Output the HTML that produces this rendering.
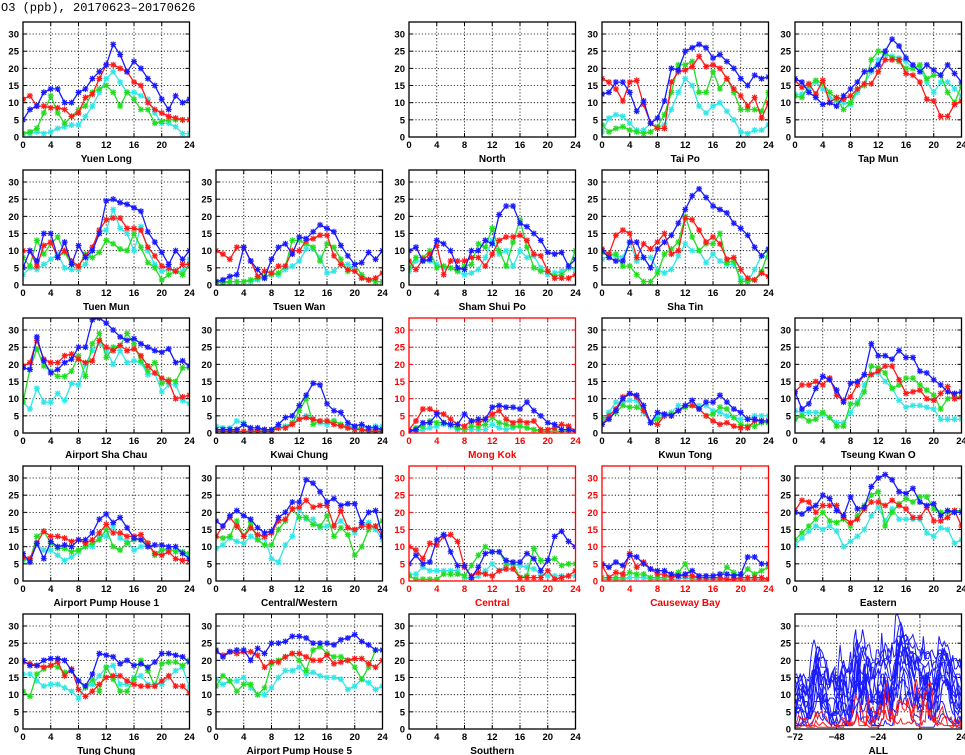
<!DOCTYPE html>
<html><head><meta charset="utf-8"><style>
html,body{margin:0;padding:0;background:#fff;}
svg{display:block;font-family:"Liberation Sans",sans-serif;}
</style></head><body>
<svg id="chart" xmlns="http://www.w3.org/2000/svg" width="965" height="755" viewBox="0 0 965 755">
<text x="1" y="11" font-size="12" font-family="Liberation Mono, monospace" fill="#000">O3 (ppb), 20170623–20170626</text>
</svg>
<script>
// ---- data (hours 0..24), series: cyan, green, red, blue ----
const yTicks = [0,5,10,15,20,25,30];
const xTicks = [0,4,8,12,16,20,24];
const allXTicks = [-72,-48,-24,0,24];

const yuenLongBlue=[5,8,9,13,14,14,10,10,13,14,17,19,21,27,24,19,22,20,17,15,11,8,12,10,11];
const yuenLongRed=[11,12,9,9,8.5,8.5,8,6,7,11.5,12.5,17,21,21,20,19,16,15,10,8,7,6,5.5,5,5];
const yuenLongGreen=[1,1.5,2.5,7,12,7,4,6,8,9,13,14,15,13,9,13,11,8,8,4,4.5,5,5,5,5];
const yuenLongCyan=[1,1,1.5,1,1.5,2.5,3,3.5,3.5,6,9,13,17,19,16,13,13,12,11,7,4,4,3,1,1];

const taiPoBlue=[12.5,13,16,16,13,7.5,10.5,4,5.5,10.5,20,19.5,25,26,27,26,23,24,22,20,17,15,18,17,17.5];
const taiPoRed=[17,16,14,10.5,16,16.5,9.5,4,2.5,2.5,16,19,19.5,20.5,23.5,20.5,21,20,17,14,12,9,11.5,5.5,10];
const taiPoGreen=[3.5,1.5,2.5,3,2,1.5,1,1.5,3,6.5,13,21,21,22,13,13,19,14,17,13,8,8,8,7.5,13];
const taiPoCyan=[1.5,5.5,6.5,6,4,2,2,4,3,3.5,8,13,17,15,9,7,9,10,7.5,5,1.5,1,2,2,3.5];

const tapMunBlue=[17,16,13,11.5,9.5,10,9,12,14,16,19,19.5,21,25,28.5,26.5,23,21,19,21,19.5,18,21,18.5,16];
const tapMunRed=[16.5,14.5,15.5,12.5,16.5,10,11.5,11,12,14,15.5,15.5,19,22.5,22.5,22.5,18.5,18,16,11,10.5,6,6,9.5,10.5];
const tapMunGreen=[12,11.5,15,16.5,15.5,13,11,8,10,14,15,22.5,25,24.5,23,22,20,20,21,17,18,18,13,10,15];
const tapMunCyan=[12.5,12.5,14,16,14,11.5,10.5,10,9.5,13,15.5,19,22.5,24,23.5,23,22,20,20,16,13,16,16,14,12];

const tuenMunBlue=[5,10,7,15,15,8,12.5,6,11.5,8,10,15,24.5,25,24,23.5,22.5,21.5,15.5,12.5,9.5,6,10,7.5,10];
const tuenMunRed=[10,10,5.5,11.5,12.5,8,10,7,5.5,8.5,11,16,19,19.5,19.5,16.5,16.5,16,11,8.5,5.5,5,4,6,6];
const tuenMunGreen=[8,5.5,13,9,12,14,9.5,6,5.5,9,8,9.5,13,12,10.5,10,15,11,6.5,5,1.5,3,4,3,6];
const tuenMunCyan=[3,5,4.5,6,7.5,9,5,4.5,4.5,6,10,15.5,16,22,16.5,15,10,17,10,6,4,4.5,4,4,7.5];

const tsuenWanBlue=[1,1.5,2.5,3,11,7,4.5,2,7.5,11,12,9,14,13.5,15.5,17.5,16.5,15.5,11.5,8.5,6,6.5,9.5,7.5,10];
const tsuenWanRed=[10,9,7.5,11,11,7,2.5,4,3.5,5.5,5.5,10,10,13,13.5,14.5,14.5,8.5,6,4.5,4,2,1.5,2,3.5];
const tsuenWanGreen=[1,0.5,1,1,1,1.5,2,2.5,3,3.5,5.5,13,13,12,11,7,12,11,7.5,4,6,3,1.5,1,1];
const tsuenWanCyan=[1,1,1,1,1,1,1.5,2,3.5,3,4.5,5.5,7,10.5,10.5,8,3.5,4,6,6,4.5,2,1.5,1,1];

const shamShuiPoBlue=[10,11,7,7.5,13,12,10,5,4.5,10,10,13,12,20.5,23,23,18,17,15,13,9.5,9,9.5,5.5,7.5];
const shamShuiPoRed=[7,4.5,7.5,9,11.5,3,7,7,7,8,8,5.5,9,13,14,14,14.5,13,9,8.5,4,2,2,2,3];
const shamShuiPoGreen=[5,8,8,10,5,5.5,5,4,5.5,6,12,11,16.5,10,5.5,12.5,19,11,5,4,4,2.5,3,5,10];
const shamShuiPoCyan=[4,7,7,7,6,5,5,4,3,3.5,4.5,8,13,9,10,5.5,10,8,8.5,5,3,3.5,4,5,4.5];

const shaTinBlue=[10,8,7,7,12.5,12.5,8,5,10.5,12.5,14.5,18,22,26,28,25.5,23,22,21,18,16.5,14.5,11,8.5,10.5];
const shaTinRed=[10.5,9,14.5,16,15,8,12,10.5,12.5,15,9,10,19.5,19,16,12.5,14,12,7.5,8,4.5,2,1.5,3.5,2.5];
const shaTinGreen=[9.5,9,9,5.5,5.5,3,1,1,3.5,9,10.5,12.5,20,14,10,12,12,15,6.5,7,1,1,1.5,4,10];
const shaTinCyan=[7.5,8.5,8.5,8,12.5,7,8,8,4.5,3.5,4.5,8.5,12,10,10,6.5,9,7,6,6,2,1,4.5,8.5,8];

const airportShaChauBlue=[19,18.5,28,21,17.5,18.5,20.5,21.5,25,25,33,33.5,32,30,28,27,27.5,26,25,24,23.5,24.5,20.5,21,19.5];
const airportShaChauRed=[19.5,20.5,27,21.5,20.5,20.5,22.5,23,21.5,20.5,21,27,25,24,25.5,24,24.5,22.5,19.5,17.5,16,15,10,10.5,11];
const airportShaChauGreen=[9,18.5,24.5,19.5,18,16.5,16.5,18,22.5,16.5,26,29,22,25,25.5,29,26,21,18,20.5,14.5,15.5,15,19,19];
const airportShaChauCyan=[9,7,13,9,9,11.5,9.5,14.5,14,20,24,26,24,20,24,20.5,21,20.5,17,17.5,12,14,14,9.5,8.5];

const kwaiChungBlue=[1,1,1,1,2.5,1.5,1.5,1,1,2.5,4.5,5,8,11,14.5,14,8.5,6.5,6,3,2,2.5,1.5,1.5,1];
const kwaiChungRed=[0.5,0.5,0.5,0.5,0.5,0.5,0.5,0.5,0.5,1.5,1.5,2.5,4,4.5,4,3.5,3.5,2.5,2,1.5,1,1,0.5,0.5,0.5];
const kwaiChungGreen=[1,1,1,1,2.5,1,1,1,1,1.5,1.5,3,6.5,10,2.5,3.5,3.5,3.5,2.5,1.5,1.5,1,1,1,1];
const kwaiChungCyan=[2,1.5,1.5,3.5,3,1,1,1,1,1.5,2,3,4,5,4,3,2.5,3.5,2.5,2,1.5,1.5,1.5,2,2];

const mongKokBlue=[0.5,1,3,3,5.5,3,2.5,2.5,5.5,3.5,4,4,7.5,8,7.5,7.5,7,9,6.5,5,3,2.5,1,1,0.5];
const mongKokRed=[1,3.5,7,7,6,5.5,4,2.5,2,3.5,3,4,5.5,6.5,4,3,3.5,3,3.5,1,1,1.5,2.5,2,0.5];
const mongKokGreen=[0.5,1.5,2,3.5,3,3,2.5,1.5,1,2,2,2.5,4.5,3,2.5,2,2,1.5,1,0.5,0.5,0.5,0.5,0.5,0.5];
const mongKokCyan=[0.5,0.5,1,1.5,2,2.5,2,1,1,1,1,1,2.5,1.5,1,1.5,2,1.5,1,0.5,0.5,0.5,0.5,0.5,0.5];

const kwunTongBlue=[2.5,4,6.5,10,11.5,11,8,3,6,5.5,5,6.5,8,9.5,7,9,9,11,9,7,6,4,4,3.5,3.5];
const kwunTongRed=[2.5,5,7,10.5,11.5,10.5,6.5,3,2.5,5,5,6.5,8,8,7,5,3.5,2.5,3,2,1.5,1.5,3.5,3.5,3.5];
const kwunTongGreen=[4.5,4.5,6,8,7.5,7.5,6.5,3,4,5,5.5,6.5,7.5,8,7,5,5.5,7.5,7,4.5,2.5,2,2,3,3];
const kwunTongCyan=[3,6,9,9,9.5,9.5,6,3,5,5.5,6,8,8,8,8,8,6.5,6,5,4.5,4,4,5,5,5];

const tseungKwanOBlue=[12,7,8.5,13,16.5,15.5,12.5,9,14.5,15,17,26,22.5,22.5,21.5,24,22,22,18,17.5,15.5,14,12,11.5,12];
const tseungKwanORed=[12,14,14,15,14,16,11,9.5,10.5,14,17,17,18,19.5,19.5,15.5,11.5,12,12.5,10,9.5,11.5,13.5,10,10.5];
const tseungKwanOGreen=[4,5,3.5,4,6,4.5,2,2,8.5,8.5,12,19.5,19,17.5,13,14,16,16,14,12.5,11,7,10,10.5,10.5];
const tseungKwanOCyan=[6.5,6,6,6,5.5,4.5,3,3,6,9,14,17,17.5,15,13,9.5,7.5,8,8,7.5,7,4,4,4,4];

const pumpHouse1Blue=[8,5.5,11,6.5,11.5,10,10.5,10,12,12,14,18,19.5,17,18.5,15.5,12.5,12,10,10.5,10.5,10,10,8,6.5];
const pumpHouse1Red=[7,6.5,11,14.5,13,13,12.5,11.5,12,11,12,14,16.5,14,14,13,13,13.5,11,8,7.5,8.5,6.5,6,6];
const pumpHouse1Green=[6.5,6,13,14.5,11,9.5,9.5,8.5,9,10,11,12,15,10,9,11,12,12,11,7.5,9,9.5,8.5,8.5,8];
const pumpHouse1Cyan=[6,6.5,10.5,9,9,7.5,6,7,8.5,10,10,13,13,16,12.5,11.5,9,10,10.5,8,9,9,9,8.5,7];

const centralWesternBlue=[17.5,16,19,20.5,19,18,15.5,14,14.5,18.5,20,23,23,29.5,28.5,26,23,24,22,22.5,22.5,17,20,20.5,13];
const centralWesternRed=[13,16,18.5,16,13,15.5,13.5,13,14,17.5,18,21,21.5,23.5,21.5,22,22,16,20.5,15.5,15,16,16,16,13];
const centralWesternGreen=[13,12.5,13,17.5,13,17,12,10.5,10.5,15,17.5,21,18.5,18.5,16.5,16,19,13,15.5,13.5,7.5,10,15,16,17.5];
const centralWesternCyan=[9.5,10.5,12.5,11.5,11,13,12,12.5,6.5,5.5,10.5,13,21,18,18,15.5,16,16,17.5,15.5,14,16,17,15,12];

const centralBlue=[5,7.5,5,5.5,12,13.5,8.5,4.5,4.5,1,4,8,8.5,8.5,6,5.5,5.5,8,6.5,3,6,13,14.5,11.5,10];
const centralRed=[10,9,6.5,11,10.5,13,13.5,11.5,4,1.5,2.5,2,1.5,3,3.5,3.5,1,1,1,1,3,0.5,1,1.5,3];
const centralGreen=[1.5,0.5,0.5,0.5,0.5,2,2,2,1.5,4.5,7.5,10,8.5,8.5,5,5,1,1.5,9.5,6,6,6.5,4.5,5,5];
const centralCyan=[2,2,4,3,3,3,3,3,1,0.5,1.5,3,5,3,4.5,5,4.5,4,3.5,2,1.5,1.5,1.5,1.5,1.5];

const causewayBayBlue=[5,4,5.5,4.5,7.5,7,5,3.5,3,3,2,1.5,2,3,1.5,1.5,1.5,2,2,1.5,2,7,7,5,5];
const causewayBayRed=[4.5,1,2.5,2,8,4,5.5,3.5,2,2,1,1.5,1.5,1.5,1,1,1,1,0.5,0.5,1,1,1,1,0.5];
const causewayBayGreen=[1,1,1,1,2.5,2,2,1,1,1,1.5,2.5,5,1,1,1,1,1,4,2.5,1,3.5,2,3,4];
const causewayBayCyan=[0.5,0.5,0.5,0.5,1,1,1,0.5,0.5,0.5,0.5,0.5,1,0.5,0.5,0.5,0.5,0.5,0.5,0.5,0.5,0.5,0.5,0.5,0.5];

const easternBlue=[20,19.5,21,22,25,24,20.5,19,24.5,21,21.5,27.5,30,31,29.5,26,25.5,27,23,22,22.5,19,20.5,20,20];
const easternRed=[20.5,23.5,23,20,22,22,22,18.5,17,18,21,23,23,22,23.5,22,21,18.5,18.5,21.5,17.5,17.5,18.5,20.5,16];
const easternGreen=[12,14,16,18,20,17.5,17,18,16,19,22,25,26,16,20,22.5,24,23,24.5,24.5,21,20,20,20.5,20.5];
const easternCyan=[10.5,12.5,14.5,16,15,16,14.5,10,11.5,13,15,19,21.5,17.5,21,18,18,18,18,14,13,15.5,15,11,12];

const tungChungBlue=[20,18.5,18.5,20,20.5,20.5,20,17,14,12.5,16,22,21.5,21,19,20,18.5,19,18,19.5,22,22,21.5,21,19.5];
const tungChungRed=[19.5,19,18.5,18,18.5,19.5,15.5,17.5,11.5,9.5,11,13,15,15.5,15.5,14,13,12.5,12.5,12.5,14,15.5,12.5,12.5,10.5];
const tungChungGreen=[11,9.5,16,17.5,18.5,18,16.5,17,14,12,14.5,11,18,14.5,11,11,14.5,20,17,12.5,19,19.5,19.5,18.5,20];
const tungChungCyan=[16,16,14,12.5,13,13,12,11,9,12.5,13,15.5,18,18.5,13,13,15,15.5,13,13,13,15,17,18,12];

const pumpHouse5Blue=[23,21,22.5,23,23,20,23.5,22,25,25,25.5,27,27,26.5,25,25,25,24.5,26,26.5,27.5,25.5,24.5,23,23];
const pumpHouse5Red=[22.5,21.5,22.5,22,22.5,22.5,21.5,18,19.5,19.5,21,22,22,21,20,20,21.5,19,19.5,20,20.5,20.5,19,18,20];
const pumpHouse5Green=[12.5,15.5,14,11,13,13,10,12,19,20,21,22,20,17,23,24,22,21,21,20,18,14.5,18,23,23];
const pumpHouse5Cyan=[14.5,13,14,14,15,12,10,10,12,15,17,17,18,16,16.5,15.5,15,15,14.5,11.5,12.5,14.5,13.5,11.5,12.5];

const stations = [
 ["Yuen Long",0,0,false,[yuenLongCyan,yuenLongGreen,yuenLongRed,yuenLongBlue]],
 ["North",2,0,false,null],
 ["Tai Po",3,0,false,[taiPoCyan,taiPoGreen,taiPoRed,taiPoBlue]],
 ["Tap Mun",4,0,false,[tapMunCyan,tapMunGreen,tapMunRed,tapMunBlue]],
 ["Tuen Mun",0,1,false,[tuenMunCyan,tuenMunGreen,tuenMunRed,tuenMunBlue]],
 ["Tsuen Wan",1,1,false,[tsuenWanCyan,tsuenWanGreen,tsuenWanRed,tsuenWanBlue]],
 ["Sham Shui Po",2,1,false,[shamShuiPoCyan,shamShuiPoGreen,shamShuiPoRed,shamShuiPoBlue]],
 ["Sha Tin",3,1,false,[shaTinCyan,shaTinGreen,shaTinRed,shaTinBlue]],
 ["Airport Sha Chau",0,2,false,[airportShaChauCyan,airportShaChauGreen,airportShaChauRed,airportShaChauBlue]],
 ["Kwai Chung",1,2,false,[kwaiChungCyan,kwaiChungGreen,kwaiChungRed,kwaiChungBlue]],
 ["Mong Kok",2,2,true,[mongKokCyan,mongKokGreen,mongKokRed,mongKokBlue]],
 ["Kwun Tong",3,2,false,[kwunTongCyan,kwunTongGreen,kwunTongRed,kwunTongBlue]],
 ["Tseung Kwan O",4,2,false,[tseungKwanOCyan,tseungKwanOGreen,tseungKwanORed,tseungKwanOBlue]],
 ["Airport Pump House 1",0,3,false,[pumpHouse1Cyan,pumpHouse1Green,pumpHouse1Red,pumpHouse1Blue]],
 ["Central/Western",1,3,false,[centralWesternCyan,centralWesternGreen,centralWesternRed,centralWesternBlue]],
 ["Central",2,3,true,[centralCyan,centralGreen,centralRed,centralBlue]],
 ["Causeway Bay",3,3,true,[causewayBayCyan,causewayBayGreen,causewayBayRed,causewayBayBlue]],
 ["Eastern",4,3,false,[easternCyan,easternGreen,easternRed,easternBlue]],
 ["Tung Chung",0,4,false,[tungChungCyan,tungChungGreen,tungChungRed,tungChungBlue]],
 ["Airport Pump House 5",1,4,false,[pumpHouse5Cyan,pumpHouse5Green,pumpHouse5Red,pumpHouse5Blue]],
 ["Southern",2,4,false,null]
];

const NS="http://www.w3.org/2000/svg";
const svg=document.getElementById('chart');
const SER_COLORS=['#33e6e6','#22dd22','#ff1a1a','#1a1aff'];
const SER_NAMES=['day1','day2','day3','day4'];
const YMAX=33.5, PW=166.5, PH=115;

function mk(tag,attrs,parent){const e=document.createElementNS(NS,tag);for(const k in attrs)e.setAttribute(k,attrs[k]);(parent||svg).appendChild(e);return e;}
function slug(s){return s.toLowerCase().replace(/[^a-z0-9]+/g,'-').replace(/-$/,'');}

let clipId=0;
function drawAxes(g,xL,yB,xmin,xmax,ticks,gridTicks,fc,name){
  const sx=t=>xL+(t-xmin)/(xmax-xmin)*PW;
  const sy=v=>yB-v/YMAX*PH;
  yTicks.forEach(v=>{
    if(v>0){const gl=mk('line',{x1:xL,x2:xL+PW,y1:sy(v),y2:sy(v),stroke:'#000','stroke-width':0.8,'stroke-dasharray':'1.2,2'},g);
    
    }
    mk('line',{x1:xL,x2:xL+4,y1:sy(v),y2:sy(v),stroke:fc,'stroke-width':1},g);
    mk('line',{x1:xL+PW-4,x2:xL+PW,y1:sy(v),y2:sy(v),stroke:fc,'stroke-width':1},g);
    const t=mk('text',{x:xL-4,y:sy(v)+3.5,'text-anchor':'end','font-size':9.5,'font-weight':'bold',fill:fc},g);
    t.textContent=v;
    
    
  });
  gridTicks.forEach(v=>{
    if(v>xmin&&v<xmax){const gl=mk('line',{x1:sx(v),x2:sx(v),y1:yB-PH,y2:yB,stroke:'#000','stroke-width':0.8,'stroke-dasharray':'1.2,2'},g);
    
    }
    mk('line',{x1:sx(v),x2:sx(v),y1:yB,y2:yB-4,stroke:fc,'stroke-width':1},g);
    mk('line',{x1:sx(v),x2:sx(v),y1:yB-PH,y2:yB-PH+4,stroke:fc,'stroke-width':1},g);
  });
  ticks.forEach(v=>{
    const t=mk('text',{x:sx(v),y:yB+11,'text-anchor':'middle','font-size':9.5,'font-weight':'bold',fill:fc},g);
    t.textContent=(v<0?'−'+(-v):v);
    
    
  });
  const nt=mk('text',{x:xL+PW/2,y:yB+25,'text-anchor':'middle','font-size':10,'font-weight':'bold',fill:fc},g);
  nt.textContent=name;
  
  
  return {sx,sy};
}
function frame(g,xL,yB,fc){
  const f=mk('rect',{x:xL,y:yB-PH,width:PW,height:PH,fill:'none',stroke:fc,'stroke-width':1.3},g);
  
  
}
function clip(g,xL,yB){
  const id='c'+(clipId++);
  const cp=mk('clipPath',{id},g);
  mk('rect',{x:xL,y:yB-PH,width:PW,height:PH},cp);
  return id;
}

stations.forEach(st=>{
  const [name,col,row,road,series]=st;
  const xL=23+193*col, yB=137+148*row;
  const fc=road?'#ff0000':'#000';
  const g=mk('g',{});
  
  
  const {sx,sy}=drawAxes(g,xL,yB,0,24,xTicks,xTicks,fc,name);
  if(series){
    const id=clip(g,xL,yB);
    const sg=mk('g',{'clip-path':'url(#'+id+')'},g);
    series.forEach((vals,si)=>{
      const col=SER_COLORS[si];
      const pts=vals.map((v,h)=>sx(h).toFixed(1)+','+sy(v).toFixed(1)).join(' ');
      const pl=mk('polyline',{points:pts,fill:'none',stroke:col,'stroke-width':1.3},sg);
      
      
      let d='';
      vals.forEach((v,h)=>{const x=sx(h),y=sy(v),r=3;
        d+=`M${x-r},${y}H${x+r}M${x},${y-r}V${y+r}M${x-2.3},${y-2.3}L${x+2.3},${y+2.3}M${x-2.3},${y+2.3}L${x+2.3},${y-2.3}`;});
      const mp=mk('path',{d,stroke:col,'stroke-width':1.2,fill:'none'},sg);
      
      
    });
  }
  frame(g,xL,yB,fc);
});

(function(){
  const xL=23+193*4, yB=137+148*4;
  const g=mk('g',{});
  
  
  const {sx,sy}=drawAxes(g,xL,yB,-72,24,allXTicks,allXTicks,'#000','ALL');
  const id=clip(g,xL,yB);
  const sg=mk('g',{'clip-path':'url(#'+id+')'},g);
  const order=[0,1,3,2];
  const drawSt=st=>{
    const series=st[4]; if(!series)return;
    const pts=[];
    order.forEach((si,d)=>series[si].forEach((v,h)=>pts.push(sx(-72+24*d+h).toFixed(1)+','+sy(v).toFixed(1))));
    const pl=mk('polyline',{points:pts.join(' '),fill:'none',stroke:st[3]?'#ff1a1a':'#1a1aff','stroke-width':1},sg);
    
    
  };
  stations.filter(s=>!s[3]).forEach(drawSt);
  stations.filter(s=>s[3]).forEach(drawSt);
  frame(g,xL,yB,'#000');
})();
</script>
</body></html>
